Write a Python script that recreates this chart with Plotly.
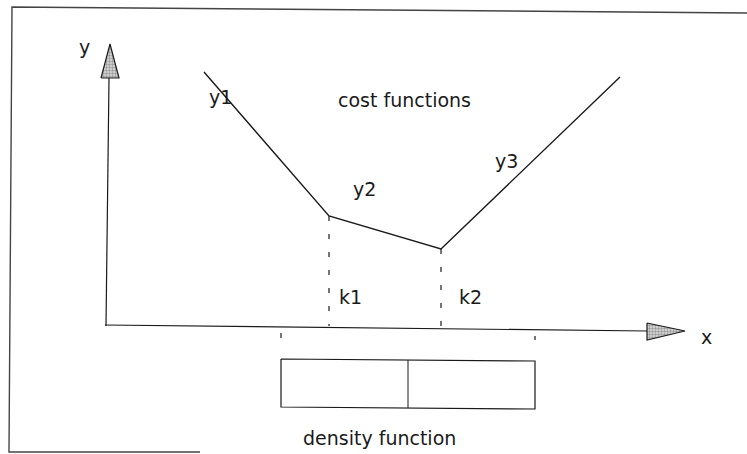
import plotly.graph_objects as go

# ---- diagram data (logical units, origin at axis crossing) ----
cost_x = [9.9, 22.4, 33.6, 51.5]      # y1 start, k1, k2, y3 end
cost_y = [25.4, 11.0, 7.7, 24.9]
k_names = ["k1", "k2"]
k_x = [22.4, 33.6]
k_y = [11.0, 7.7]
density_lo = 17.6
density_mid = 30.3
density_hi = 43.0
seg_labels = ["y1", "y2", "y3"]
seg_label_x = [11.5, 25.9, 40.1]
seg_label_y = [22.9, 13.7, 16.5]

INK = "#1a1a1a"
FONT = "DejaVu Sans"
FS = 19

fig = go.Figure()

def line(xs, ys, width=1.3, color=INK, dash=None):
    fig.add_trace(go.Scatter(x=xs, y=ys, mode="lines",
                             line=dict(color=color, width=width, dash=dash),
                             hoverinfo="skip", showlegend=False))

def arrow(xs, ys):
    fig.add_trace(go.Scatter(x=xs, y=ys, mode="lines", fill="toself",
                             line=dict(color=INK, width=1.2),
                             fillcolor="rgba(0,0,0,0)",
                             fillpattern=dict(shape=".", fgcolor="#555555",
                                              bgcolor="#dddddd", size=3, solidity=0.5),
                             hoverinfo="skip", showlegend=False))

# page frame (scanned, slightly rotated)
line([64.2, -9.3, -9.6, 9.5], [31.3, 31.9, -12.6, -12.6], width=1.4, color="#444444")

# axes
line([0.1, 0.4], [0.0, 24.8], width=1.2)
arrow([-0.4, 1.4, 0.5, -0.4], [24.8, 24.8, 28.2, 24.8])
line([0.0, 54.2], [0.1, -0.5], width=1.2)
arrow([54.2, 54.2, 58.0, 54.2], [0.3, -1.4, -0.5, 0.3])

# cost function polyline
line(cost_x, cost_y, width=1.4)

# dashed verticals at breakpoints
for kx, ky in zip(k_x, k_y):
    line([kx, kx], [ky, 0.0], width=1.2, dash="5px,13px")

# small ticks under the x axis marking the density support
line([density_lo, density_lo], [-0.7, -1.2], width=1.2)
line([density_hi, density_hi], [-1.0, -1.4], width=1.2)

# density function box
line([density_lo, density_hi, density_hi, density_lo, density_lo],
     [-3.3, -3.5, -8.3, -8.1, -3.3], width=1.2)
line([density_mid, density_mid], [-3.4, -8.2], width=1.0)

ann = []
def text(x, y, s):
    ann.append(dict(x=x, y=y, text=s, showarrow=False, xanchor="center", yanchor="middle",
                    font=dict(family=FONT, size=FS, color=INK)))

text(-2.1, 27.9, "y")
for s, x, y in zip(seg_labels, seg_label_x, seg_label_y):
    text(x, y, s)
text(29.9, 22.6, "cost functions")
for s, x in zip(k_names, [24.5, 36.5]):
    text(x, 2.9, s)
text(60.1, -1.1, "x")
text(27.4, -11.2, "density function")

fig.update_layout(
    width=747, height=454,
    margin=dict(l=0, r=0, t=0, b=0),
    paper_bgcolor="white", plot_bgcolor="white",
    xaxis=dict(range=[-10.5, 64.2], visible=False, fixedrange=True),
    yaxis=dict(range=[-12.8, 32.6], visible=False, fixedrange=True),
    annotations=ann,
    showlegend=False,
)

fig.write_html("out.html", config={"displayModeBar": False},
               post_script="document.body.style.margin='0';document.body.style.overflow='hidden';")
